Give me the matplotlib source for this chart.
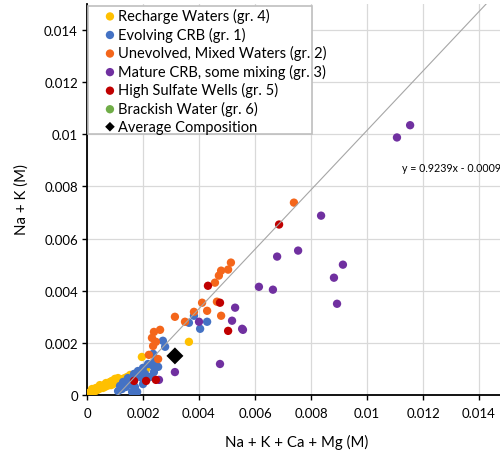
import matplotlib
matplotlib.use("Agg")
import matplotlib.pyplot as plt
from matplotlib.patches import Rectangle
import numpy as np

plt.rcParams['font.family'] = ['Lato', 'DejaVu Sans']

# --- data (Na+K+Ca+Mg, Na+K), molar ---
recharge_x = [0.00364, 0.00196, 0.00211, 0.00007, 0.00014, 0.00021, 0.00029, 0.00036, 0.00043,
              0.00050, 0.00057, 0.00064, 0.00071, 0.00079, 0.00086, 0.00093, 0.00100, 0.00107,
              0.00114, 0.00121, 0.00129, 0.00136, 0.00143, 0.00111, 0.00082, 0.00061, 0.00032,
              0.00046, 0.00089, 0.00068, 0.00018, 0.00154, 0.00100]
recharge_y = [0.00204, 0.00146, 0.00100, 0.00008, 0.00012, 0.00015, 0.00015, 0.00019, 0.00023,
              0.00027, 0.00027, 0.00031, 0.00035, 0.00038, 0.00038, 0.00042, 0.00046, 0.00050,
              0.00054, 0.00058, 0.00062, 0.00065, 0.00069, 0.00065, 0.00050, 0.00038, 0.00027,
              0.00038, 0.00054, 0.00046, 0.00023, 0.00077, 0.00062]

evolving_x = [0.00364, 0.00382, 0.00429, 0.00404, 0.00271, 0.00279, 0.00236, 0.00243, 0.00236,
              0.00218, 0.00200, 0.00182, 0.00168, 0.00146, 0.00129, 0.00118, 0.00111, 0.00161,
              0.00179, 0.00200, 0.00225, 0.00239, 0.00139, 0.00125, 0.00189, 0.00207, 0.00154,
              0.00254, 0.00171]
evolving_y = [0.00277, 0.00304, 0.00281, 0.00254, 0.00208, 0.00185, 0.00158, 0.00131, 0.00112,
              0.00119, 0.00104, 0.00092, 0.00081, 0.00065, 0.00050, 0.00035, 0.00015, 0.00012,
              0.00012, 0.00042, 0.00069, 0.00088, 0.00031, 0.00023, 0.00069, 0.00081, 0.00042,
              0.00108, 0.00031]

unevolved_x = [0.00739, 0.00514, 0.00504, 0.00479, 0.00471, 0.00457, 0.00411, 0.00464, 0.00429,
               0.00382, 0.00479, 0.00314, 0.00350, 0.00261, 0.00239, 0.00232, 0.00246, 0.00236,
               0.00221, 0.00254]
unevolved_y = [0.00738, 0.00508, 0.00481, 0.00477, 0.00458, 0.00431, 0.00354, 0.00358, 0.00323,
               0.00319, 0.00304, 0.00300, 0.00281, 0.00250, 0.00242, 0.00219, 0.00204, 0.00188,
               0.00154, 0.00138]

mature_x = [0.01154, 0.01107, 0.00836, 0.00754, 0.00679, 0.00914, 0.00882, 0.00893, 0.00614,
            0.00664, 0.00529, 0.00518, 0.00557, 0.00554, 0.00400, 0.00475, 0.00314, 0.00257]
mature_y = [0.01035, 0.00988, 0.00688, 0.00554, 0.00531, 0.00500, 0.00450, 0.00350, 0.00415,
            0.00404, 0.00335, 0.00285, 0.00250, 0.00254, 0.00281, 0.00119, 0.00088, 0.00058]

sulfate_x = [0.00686, 0.00432, 0.00475, 0.00504, 0.00168, 0.00211, 0.00246]
sulfate_y = [0.00654, 0.00419, 0.00354, 0.00246, 0.00054, 0.00054, 0.00058]

brackish_x = []
brackish_y = []

avg_x = [0.00314]
avg_y = [0.00150]

# trendline as drawn on the chart, and its printed label
trend_slope = 1.14
trend_intercept = -0.00125
trend_label = "y = 0.9239x - 0.0009"

series = [
    ("Recharge Waters (gr. 4)", recharge_x, recharge_y, "#FFC000"),
    ("Evolving CRB (gr. 1)", evolving_x, evolving_y, "#4472C4"),
    ("Unevolved, Mixed Waters (gr. 2)", unevolved_x, unevolved_y, "#F4661B"),
    ("Mature CRB, some mixing (gr. 3)", mature_x, mature_y, "#7030A0"),
    ("High Sulfate Wells (gr. 5)", sulfate_x, sulfate_y, "#C00000"),
    ("Brackish Water (gr. 6)", brackish_x, brackish_y, "#70AD47"),
]

fig = plt.figure(figsize=(5, 4.56), dpi=100)
ax = fig.add_axes([87 / 500, 60 / 456, 420 / 500, 391 / 456])

for name, xs, ys, col in series:
    ax.scatter(xs, ys, s=36, color=col, edgecolors='none', label=name, zorder=3)
ax.scatter(avg_x, avg_y, s=75, marker='D', color='black', edgecolors='none',
           label="Average Composition", zorder=4)

xmax, ymax = 0.015, 0.015
x0 = -trend_intercept / trend_slope
x1 = (ymax - trend_intercept) / trend_slope
tx = np.array([x0, x1])
ax.plot(tx, trend_slope * tx + trend_intercept, color='#A6A6A6', lw=0.8, zorder=5)
ax.text(0.01125, 0.00873, trend_label, fontsize=7.7, ha='left', va='center', zorder=6)

ax.set_xlim(0, xmax)
ax.set_ylim(0, ymax)
ticks = np.arange(0, 0.0141, 0.002)
ticklabels = ["0", "0.002", "0.004", "0.006", "0.008", "0.01", "0.012", "0.014"]
ax.set_xticks(ticks)
ax.set_xticklabels(ticklabels)
ax.set_yticks(ticks)
ax.set_yticklabels(ticklabels)
ax.grid(True, color='#D9D9D9', lw=0.9)
ax.set_axisbelow(True)
ax.tick_params(direction='out', length=3.5, width=1, colors='black', labelsize=9.5)
ax.tick_params(axis='x', pad=5)
ax.tick_params(axis='y', pad=3)
for side in ['top', 'right']:
    ax.spines[side].set_visible(False)
for side in ['left', 'bottom']:
    ax.spines[side].set_linewidth(1.3)

ax.set_xlabel("Na + K + Ca + Mg (M)", fontsize=10.8)
ax.xaxis.set_label_coords(210 / 420, -46 / 391)
ax.xaxis.label.set_verticalalignment('center')
ax.set_ylabel("Na + K (M)", fontsize=10.8)
ax.yaxis.set_label_coords(-65 / 420, 196 / 391)
ax.yaxis.label.set_verticalalignment('center')

# legend box drawn separately (Excel pads it unevenly)
box = Rectangle((88 / 500, 1 - 135 / 456), 224 / 500, 128 / 456, transform=fig.transFigure,
                facecolor='white', edgecolor='#BFBFBF', lw=1.2, zorder=9, clip_on=False)
ax.add_patch(box)

leg = ax.legend(loc='upper left', bbox_to_anchor=(88 / 500, 1 - 7 / 456),
                bbox_transform=fig.transFigure, fontsize=10.5, frameon=False,
                handlelength=2.71, handletextpad=-0.81, labelspacing=0.24,
                borderpad=0.15, borderaxespad=0)
for h in leg.legend_handles[:-1]:
    h.set_sizes([36])
leg.legend_handles[-1].set_sizes([24])
leg.set_zorder(10)

fig.savefig("out.png", dpi=100)
